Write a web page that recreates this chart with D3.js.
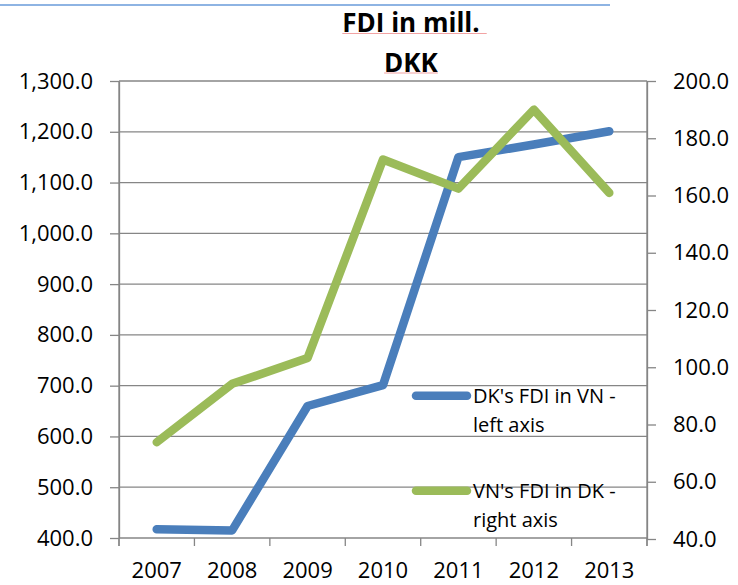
<!DOCTYPE html>
<head>
<meta charset="utf-8">
<style>
  body { margin: 0; background: #fff; }
  text { font-family: "Open Sans", sans-serif; fill: #000; }
</style>
</head>
<body>
  <svg width="738" height="585"></svg>

  <script src="https://d3js.org/d3.v7.min.js"></script>
  <script>
  // chart values
  const years = ['2007', '2008', '2009', '2010', '2011', '2012', '2013'];
  const dkInVn = [417, 415, 660, 701, 1150, 1175, 1201];   // left axis
  const vnInDk = [73.8, 94.2, 103.2, 172.6, 162.4, 190, 160.9]; // right axis
  const leftTicks = [400, 500, 600, 700, 800, 900, 1000, 1100, 1200, 1300];
  const rightTicks = [40, 60, 80, 100, 120, 140, 160, 180, 200];
  const legendLabels = [["DK's FDI in VN -", 'left axis'], ["VN's FDI in DK -", 'right axis']];
  const titleLines = ['FDI in mill.', 'DKK'];

  const blue = '#4a7ebb';
  const green = '#9bbb59';
  const grey = '#868686';

  const plotL = 119, plotR = 647, plotT = 81, plotB = 538;

  const svg = d3.select('svg');

  const x = d3.scaleBand().domain(years).range([plotL, plotR]);
  const yL = d3.scaleLinear().domain([400, 1300]).range([plotB, plotT]);
  const yR = d3.scaleLinear().domain([40, 200]).range([plotB + 1, plotT]);
  const fmt = d3.format(',.1f');

  // decorative line at the very top
  svg.append('line')
    .attr('x1', 0).attr('x2', 610).attr('y1', 5).attr('y2', 5)
    .attr('stroke', '#8eb4e3').attr('stroke-width', 2);

  // title, two lines with a spell-check underline
  const title = svg.append('g');
  titleLines.forEach((t, i) => {
    const txt = title.append('text')
      .attr('x', 411).attr('y', 31.5 + i * 40)
      .attr('text-anchor', 'middle')
      .attr('font-size', 26).attr('font-weight', 'bold')
      .text(t);
    const w = txt.node().getComputedTextLength();
    title.append('line')
      .attr('x1', 411 - w / 2).attr('x2', 411 + w / 2 + (i === 0 ? 7 : 0))
      .attr('y1', 33.5 + i * 39.5).attr('y2', 33.5 + i * 39.5)
      .attr('stroke', '#f2a3a3').attr('stroke-width', 1);
  });

  // horizontal gridlines
  svg.append('g')
    .selectAll('line')
    .data(leftTicks)
    .join('line')
    .attr('x1', plotL).attr('x2', plotR)
    .attr('y1', d => yL(d)).attr('y2', d => yL(d))
    .attr('stroke', grey).attr('stroke-width', 1.3);

  // left axis
  const axL = svg.append('g')
    .attr('transform', `translate(${plotL},0)`)
    .call(d3.axisLeft(yL).tickValues(leftTicks).tickFormat(fmt)
      .tickSize(9).tickSizeOuter(0).tickPadding(17));
  // right axis
  const axR = svg.append('g')
    .attr('transform', `translate(${plotR},0)`)
    .call(d3.axisRight(yR).tickValues(rightTicks).tickFormat(fmt)
      .tickSize(9).tickSizeOuter(0).tickPadding(17));
  [axL, axR].forEach(ax => {
    ax.select('.domain').attr('stroke', grey).attr('stroke-width', 1.3);
    ax.selectAll('.tick line').attr('stroke', grey).attr('stroke-width', 1.3);
    ax.selectAll('.tick text')
      .attr('font-size', 22).attr('font-family', '"Open Sans", sans-serif').attr('fill', '#000');
  });
  // vertical axis lines running down to the tick length
  svg.append('line')
    .attr('x1', plotL).attr('x2', plotL).attr('y1', plotT).attr('y2', plotB + 8)
    .attr('stroke', grey).attr('stroke-width', 1.3);
  svg.append('line')
    .attr('x1', plotR).attr('x2', plotR).attr('y1', plotT).attr('y2', plotB + 8)
    .attr('stroke', grey).attr('stroke-width', 1.3);

  // category axis: ticks between categories, labels centred
  const axB = svg.append('g')
    .attr('transform', `translate(0,${plotB})`)
    .call(d3.axisBottom(x).tickSize(0).tickPadding(24));
  axB.select('.domain').remove();
  axB.selectAll('.tick text')
    .attr('font-size', 22).attr('font-family', '"Open Sans", sans-serif').attr('fill', '#000');
  svg.append('g')
    .selectAll('line')
    .data(years.map(d => x(d)).concat([x.range()[1]]))
    .join('line')
    .attr('x1', d => d).attr('x2', d => d)
    .attr('y1', plotB).attr('y2', plotB + 8)
    .attr('stroke', grey).attr('stroke-width', 1.3);

  // series lines
  const cx = d => x(d) + x.bandwidth() / 2;
  const lineL = d3.line().x((d, i) => cx(years[i])).y(d => yL(d));
  const lineR = d3.line().x((d, i) => cx(years[i])).y(d => yR(d));
  svg.append('path')
    .attr('d', lineL(dkInVn))
    .attr('fill', 'none').attr('stroke', blue).attr('stroke-width', 8.5)
    .attr('stroke-linejoin', 'round').attr('stroke-linecap', 'round');
  svg.append('path')
    .attr('d', lineR(vnInDk))
    .attr('fill', 'none').attr('stroke', green).attr('stroke-width', 8.5)
    .attr('stroke-linejoin', 'round').attr('stroke-linecap', 'round');

  // legend (no background)
  const legend = svg.append('g');
  [blue, green].forEach((c, i) => {
    const ly = 395.7 + i * 95;
    legend.append('line')
      .attr('x1', 416).attr('x2', 467).attr('y1', ly).attr('y2', ly)
      .attr('stroke', c).attr('stroke-width', 8.5).attr('stroke-linecap', 'round');
    legendLabels[i].forEach((t, j) => {
      legend.append('text')
        .attr('x', 473).attr('y', ly + 6.8 + j * 29)
        .attr('font-size', 20)
        .text(t);
    });
  });
  </script>
</body>
</html>
